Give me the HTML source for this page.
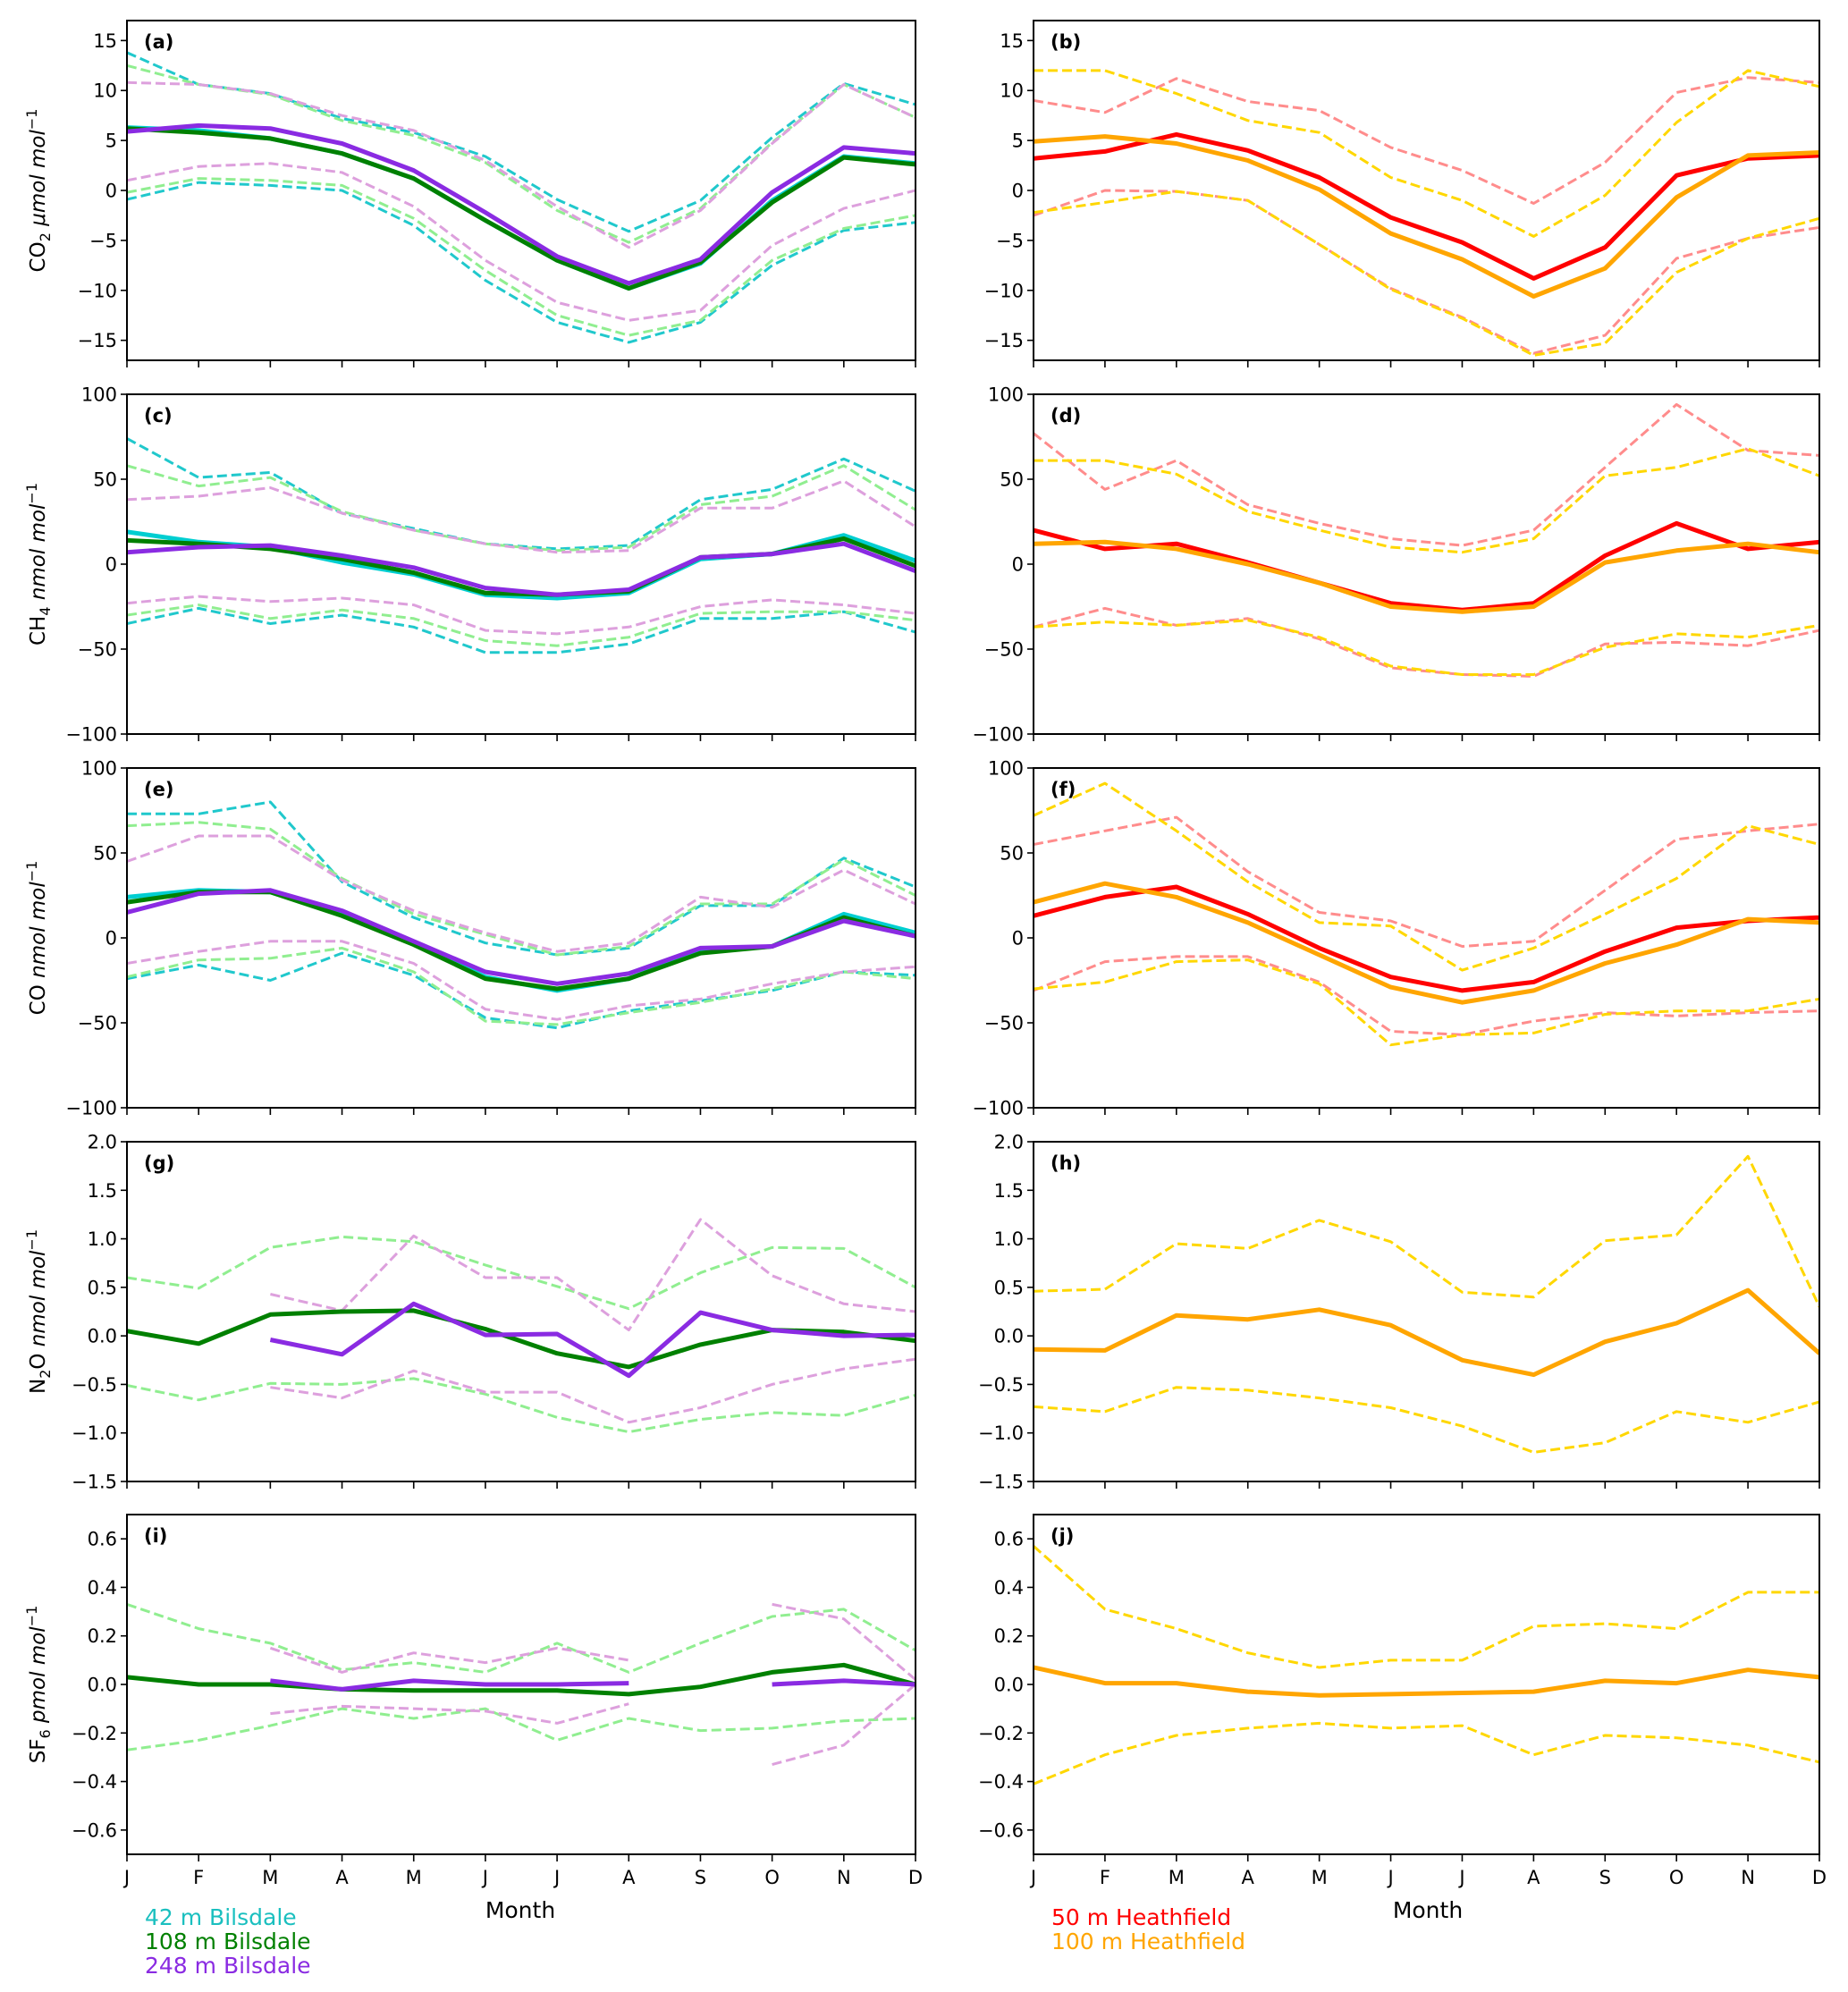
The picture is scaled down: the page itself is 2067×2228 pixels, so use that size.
<!DOCTYPE html>
<html><head><meta charset="utf-8"><style>
html,body{margin:0;padding:0;background:#fff;}
svg{display:block;font-family:"DejaVu Sans","Liberation Sans",sans-serif;}
</style></head><body>
<svg id="fig" width="2067" height="2228" viewBox="0 0 2067 2228" xmlns="http://www.w3.org/2000/svg">
<text x="582" y="2145" font-size="25" text-anchor="middle">Month</text>
<text x="1597" y="2145" font-size="25" text-anchor="middle">Month</text>
<g font-size="25">
<text x="162" y="2153" fill="#1abfbf">42 m Bilsdale</text>
<text x="162" y="2180" fill="#008000">108 m Bilsdale</text>
<text x="162" y="2207" fill="#8a2be2">248 m Bilsdale</text>
</g>
<g font-size="25">
<text x="1176" y="2153" fill="#ff0000">50 m Heathfield</text>
<text x="1176" y="2180" fill="#ffa500">100 m Heathfield</text>
</g>
</svg>
<script>
const months = ["J","F","M","A","M","J","J","A","S","O","N","D"];
const N = null;
// (a) CO2 Bilsdale
const a_42 = [6.3,6.0,5.2,3.7,1.2,-3.0,-7.0,-9.8,-7.3,-1.0,3.4,2.7];
const a_108 = [6.2,5.8,5.2,3.7,1.2,-3.0,-7.0,-9.8,-7.2,-1.2,3.3,2.6];
const a_248 = [5.9,6.5,6.2,4.7,2.0,-2.2,-6.6,-9.3,-6.9,-0.2,4.3,3.7];
const a_42_up = [13.8,10.6,9.7,7.2,5.8,3.4,-0.9,-4.1,-1.0,5.3,10.7,8.6];
const a_42_lo = [-0.9,0.8,0.5,0.0,-3.5,-9.0,-13.2,-15.2,-13.2,-7.5,-4.0,-3.2];
const a_108_up = [12.5,10.6,9.6,7.0,5.5,2.8,-2.0,-5.2,-1.8,4.8,10.6,7.3];
const a_108_lo = [-0.2,1.2,1.0,0.5,-2.8,-8.0,-12.5,-14.5,-13.0,-7.0,-3.8,-2.5];
const a_248_up = [10.8,10.6,9.7,7.5,6.0,3.0,-1.6,-5.7,-2.0,4.7,10.6,7.3];
const a_248_lo = [1.0,2.4,2.7,1.8,-1.6,-7.0,-11.2,-13.0,-12.0,-5.5,-1.8,0.0];
// (b) CO2 Heathfield
const b_50 = [3.2,3.9,5.6,4.0,1.3,-2.7,-5.2,-8.8,-5.7,1.5,3.2,3.5];
const b_100 = [4.9,5.4,4.7,3.0,0.1,-4.3,-6.9,-10.6,-7.8,-0.7,3.5,3.8];
const b_50_up = [9.0,7.8,11.2,8.9,8.0,4.3,2.0,-1.3,2.8,9.8,11.3,10.8];
const b_50_lo = [-2.5,0.0,-0.1,-1.0,-5.4,-9.8,-12.7,-16.3,-14.5,-6.8,-4.8,-3.7];
const b_100_up = [12.0,12.0,9.7,7.0,5.8,1.3,-1.0,-4.6,-0.5,6.8,12.0,10.4];
const b_100_lo = [-2.2,-1.2,-0.1,-1.0,-5.4,-9.9,-12.8,-16.5,-15.3,-8.2,-4.8,-2.8];
// (c) CH4 Bilsdale
const c_42 = [19,13,10,1,-6,-18,-20,-17,3,6,17,2];
const c_108 = [14,12,9,3,-5,-17,-18,-16,4,6,15,-1];
const c_248 = [7,10,11,5,-2,-14,-18,-15,4,6,12,-4];
const c_42_up = [74,51,54,30,21,12,9,11,38,44,62,43];
const c_42_lo = [-35,-26,-35,-30,-37,-52,-52,-47,-32,-32,-28,-40];
const c_108_up = [58,46,51,31,20,12,8,10,35,40,58,32];
const c_108_lo = [-30,-24,-32,-27,-32,-45,-48,-43,-29,-28,-28,-33];
const c_248_up = [38,40,45,30,20,12,7,8,33,33,49,22];
const c_248_lo = [-23,-19,-22,-20,-24,-39,-41,-37,-25,-21,-24,-29];
// (d) CH4 Heathfield
const d_50 = [20,9,12,1,-11,-23,-27,-23,5,24,9,13];
const d_100 = [12,13,9,0,-11,-25,-28,-25,1,8,12,7];
const d_50_up = [77,44,61,35,24,15,11,20,57,94,67,64];
const d_50_lo = [-37,-26,-36,-32,-44,-61,-65,-66,-47,-46,-48,-39];
const d_100_up = [61,61,53,31,20,10,7,15,52,57,68,52];
const d_100_lo = [-37,-34,-36,-33,-43,-60,-65,-65,-49,-41,-43,-36];
// (e) CO Bilsdale
const e_42 = [24,28,27,14,-3,-23,-31,-24,-8,-5,14,3];
const e_108 = [21,27,27,13,-4,-24,-30,-24,-9,-5,12,1];
const e_248 = [15,26,28,16,-2,-20,-27,-21,-6,-5,10,1];
const e_42_up = [73,73,80,33,12,-3,-10,-6,19,19,47,30];
const e_42_lo = [-24,-16,-25,-9,-22,-47,-53,-43,-37,-31,-20,-22];
const e_108_up = [66,68,64,35,14,2,-10,-5,20,20,46,25];
const e_108_lo = [-23,-13,-12,-6,-20,-49,-51,-44,-38,-30,-20,-24];
const e_248_up = [45,60,60,34,16,3,-8,-3,24,18,40,20];
const e_248_lo = [-15,-8,-2,-2,-15,-42,-48,-40,-36,-27,-20,-17];
// (f) CO Heathfield
const f_50 = [13,24,30,14,-6,-23,-31,-26,-8,6,10,12];
const f_100 = [21,32,24,9,-10,-29,-38,-31,-15,-4,11,9];
const f_50_up = [55,63,71,39,15,10,-5,-2,28,58,63,67];
const f_50_lo = [-31,-14,-11,-11,-26,-55,-57,-49,-44,-46,-44,-43];
const f_100_up = [72,91,63,33,9,7,-19,-6,14,35,66,55];
const f_100_lo = [-30,-26,-14,-13,-27,-63,-57,-56,-45,-43,-43,-36];
// (g) N2O Bilsdale
const g_108 = [0.05,-0.08,0.22,0.25,0.26,0.07,-0.18,-0.32,-0.09,0.06,0.04,-0.05];
const g_248 = [N,N,-0.04,-0.19,0.33,0.01,0.02,-0.41,0.24,0.06,0.0,0.01];
const g_108_up = [0.6,0.49,0.91,1.02,0.97,0.73,0.51,0.28,0.65,0.91,0.9,0.5];
const g_108_lo = [-0.51,-0.66,-0.49,-0.5,-0.44,-0.6,-0.84,-0.99,-0.86,-0.79,-0.82,-0.61];
const g_248_up = [N,N,0.43,0.26,1.03,0.6,0.6,0.06,1.2,0.62,0.33,0.25];
const g_248_lo = [N,N,-0.53,-0.64,-0.36,-0.58,-0.58,-0.89,-0.74,-0.5,-0.34,-0.24];
// (h) N2O Heathfield
const h_100 = [-0.14,-0.15,0.21,0.17,0.27,0.11,-0.25,-0.4,-0.06,0.13,0.47,-0.18];
const h_100_up = [0.46,0.48,0.95,0.9,1.19,0.97,0.45,0.4,0.98,1.04,1.85,0.3];
const h_100_lo = [-0.73,-0.78,-0.53,-0.56,-0.64,-0.74,-0.93,-1.2,-1.1,-0.78,-0.89,-0.68];
// (i) SF6 Bilsdale
const i_108 = [0.03,0.0,0.0,-0.02,-0.025,-0.025,-0.025,-0.04,-0.01,0.05,0.08,0.0];
const i_248 = [N,N,0.015,-0.02,0.015,0.0,0.0,0.005,N,0.0,0.015,0.0];
const i_108_up = [0.33,0.23,0.17,0.06,0.09,0.05,0.17,0.05,0.17,0.28,0.31,0.14];
const i_108_lo = [-0.27,-0.23,-0.17,-0.1,-0.14,-0.1,-0.23,-0.14,-0.19,-0.18,-0.15,-0.14];
const i_248_up = [N,N,0.15,0.05,0.13,0.09,0.15,0.1,N,0.33,0.27,0.02];
const i_248_lo = [N,N,-0.12,-0.09,-0.1,-0.11,-0.16,-0.08,N,-0.33,-0.25,0.0];
// (j) SF6 Heathfield
const j_100 = [0.07,0.005,0.005,-0.03,-0.045,-0.04,-0.035,-0.03,0.015,0.005,0.06,0.03];
const j_100_up = [0.57,0.31,0.23,0.13,0.07,0.1,0.1,0.24,0.25,0.23,0.38,0.38];
const j_100_lo = [-0.41,-0.29,-0.21,-0.18,-0.16,-0.18,-0.17,-0.29,-0.21,-0.22,-0.25,-0.32];

const ticksCO2 = [-15,-10,-5,0,5,10,15];
const ticksBig = [-100,-50,0,50,100];
const ticksN2O = [-1.5,-1.0,-0.5,0.0,0.5,1.0,1.5,2.0];
const ticksSF6 = [-0.6,-0.4,-0.2,0.0,0.2,0.4,0.6];

const C = {c42:"#00ced1",c108:"#008000",c248:"#8a2be2",d42:"#20c8cc",d108:"#90ee90",d248:"#dda0dd",
  r50:"#ff0000",o100:"#ffa500",d50:"#ff8c8c",d100:"#ffd700"};

const NS="http://www.w3.org/2000/svg";
const svg=document.getElementById('fig');
function mk(tag,attrs,parent){const e=document.createElementNS(NS,tag);for(const k in attrs)e.setAttribute(k,attrs[k]);(parent||svg).appendChild(e);return e;}

const colX=[142,1156], colW=[882,879], rowY=[23,441,859,1277,1694], H=380;
function fmt(v,dec){const s=Math.abs(v).toFixed(dec);return (v<0?"\u2212":"")+s;}

const panels=[
 {id:"a",col:0,row:0,min:-17,max:17,ticks:ticksCO2,dec:0,ylab:["CO","2"," μmol mol","−1"],series:[
  [a_42_up,"d42","42m-upper"],[a_42_lo,"d42","42m-lower"],[a_108_up,"d108","108m-upper"],[a_108_lo,"d108","108m-lower"],
  [a_248_up,"d248","248m-upper"],[a_248_lo,"d248","248m-lower"],[a_42,"c42","42m-mean"],[a_108,"c108","108m-mean"],[a_248,"c248","248m-mean"]]},
 {id:"b",col:1,row:0,min:-17,max:17,ticks:ticksCO2,dec:0,series:[
  [b_50_up,"d50","50m-upper"],[b_50_lo,"d50","50m-lower"],[b_100_up,"d100","100m-upper"],[b_100_lo,"d100","100m-lower"],
  [b_50,"r50","50m-mean"],[b_100,"o100","100m-mean"]]},
 {id:"c",col:0,row:1,min:-100,max:100,ticks:ticksBig,dec:0,ylab:["CH","4"," nmol mol","−1"],series:[
  [c_42_up,"d42","42m-upper"],[c_42_lo,"d42","42m-lower"],[c_108_up,"d108","108m-upper"],[c_108_lo,"d108","108m-lower"],
  [c_248_up,"d248","248m-upper"],[c_248_lo,"d248","248m-lower"],[c_42,"c42","42m-mean"],[c_108,"c108","108m-mean"],[c_248,"c248","248m-mean"]]},
 {id:"d",col:1,row:1,min:-100,max:100,ticks:ticksBig,dec:0,series:[
  [d_50_up,"d50","50m-upper"],[d_50_lo,"d50","50m-lower"],[d_100_up,"d100","100m-upper"],[d_100_lo,"d100","100m-lower"],
  [d_50,"r50","50m-mean"],[d_100,"o100","100m-mean"]]},
 {id:"e",col:0,row:2,min:-100,max:100,ticks:ticksBig,dec:0,ylab:["CO","",""," nmol mol","−1"],series:[
  [e_42_up,"d42","42m-upper"],[e_42_lo,"d42","42m-lower"],[e_108_up,"d108","108m-upper"],[e_108_lo,"d108","108m-lower"],
  [e_248_up,"d248","248m-upper"],[e_248_lo,"d248","248m-lower"],[e_42,"c42","42m-mean"],[e_108,"c108","108m-mean"],[e_248,"c248","248m-mean"]]},
 {id:"f",col:1,row:2,min:-100,max:100,ticks:ticksBig,dec:0,series:[
  [f_50_up,"d50","50m-upper"],[f_50_lo,"d50","50m-lower"],[f_100_up,"d100","100m-upper"],[f_100_lo,"d100","100m-lower"],
  [f_50,"r50","50m-mean"],[f_100,"o100","100m-mean"]]},
 {id:"g",col:0,row:3,min:-1.5,max:2.0,ticks:ticksN2O,dec:1,ylab:["N","2","O nmol mol","−1"],series:[
  [g_108_up,"d108","108m-upper"],[g_108_lo,"d108","108m-lower"],[g_248_up,"d248","248m-upper"],[g_248_lo,"d248","248m-lower"],
  [g_108,"c108","108m-mean"],[g_248,"c248","248m-mean"]]},
 {id:"h",col:1,row:3,min:-1.5,max:2.0,ticks:ticksN2O,dec:1,series:[
  [h_100_up,"d100","100m-upper"],[h_100_lo,"d100","100m-lower"],[h_100,"o100","100m-mean"]]},
 {id:"i",col:0,row:4,min:-0.7,max:0.7,ticks:ticksSF6,dec:1,ylab:["SF","6"," pmol mol","−1"],series:[
  [i_108_up,"d108","108m-upper"],[i_108_lo,"d108","108m-lower"],[i_248_up,"d248","248m-upper"],[i_248_lo,"d248","248m-lower"],
  [i_108,"c108","108m-mean"],[i_248,"c248","248m-mean"]]},
 {id:"j",col:1,row:4,min:-0.7,max:0.7,ticks:ticksSF6,dec:1,series:[
  [j_100_up,"d100","100m-upper"],[j_100_lo,"d100","100m-lower"],[j_100,"o100","100m-mean"]]}
];

panels.forEach(p=>{
  const x0=colX[p.col], y0=rowY[p.row], W=colW[p.col];
  const g=mk('g',{});
  
  
  const xs=i=>x0+W*i/11;
  const ys=v=>y0+H*(p.max-v)/(p.max-p.min);
  mk('defs',{},g).innerHTML='<clipPath id="clip-'+p.id+'"><rect x="'+x0+'" y="'+y0+'" width="'+W+'" height="'+H+'"/></clipPath>';
  const lines=mk('g',{'clip-path':'url(#clip-'+p.id+')'},g);
  p.series.forEach(s=>{
    const arr=s[0], dashed=s[1].charAt(0)==='d';
    let segs=[],cur=[];
    arr.forEach((v,i)=>{if(v===null){if(cur.length)segs.push(cur);cur=[];}else cur.push(xs(i).toFixed(1)+','+ys(v).toFixed(1));});
    if(cur.length)segs.push(cur);
    segs.forEach(seg=>{
      const pl=mk('polyline',{points:seg.join(' '),fill:'none',stroke:C[s[1]],'stroke-width':dashed?3:5,'stroke-linejoin':'round'},lines);
      if(dashed)pl.setAttribute('stroke-dasharray','11,5');
      
      
    });
  });
  const fr=mk('rect',{x:x0,y:y0,width:W,height:H,fill:'none',stroke:'#000','stroke-width':2},g);
  
  
  p.ticks.forEach(t=>{
    const y=ys(t);
    mk('line',{x1:x0-7,x2:x0,y1:y,y2:y,stroke:'#000','stroke-width':1.6},g);
    const tx=mk('text',{x:x0-11,y:y+7.5,'font-size':21,'text-anchor':'end'},g);
    tx.textContent=fmt(t,p.dec);
    
    
  });
  months.forEach((m,i)=>{
    const x=xs(i);
    mk('line',{x1:x,x2:x,y1:y0+H,y2:y0+H+8,stroke:'#000','stroke-width':1.6},g);
    if(p.row===4){
      const tx=mk('text',{x:x,y:y0+H+33,'font-size':21,'text-anchor':'middle'},g);
      tx.textContent=m;
      
      
    }
  });
  const lb=mk('text',{x:x0+19,y:y0+31,'font-size':21,'font-weight':'bold'},g);
  lb.textContent='('+p.id+')';
  
  
  if(p.ylab){
    const cy=y0+H/2;
    const t=mk('text',{x:0,y:0,'font-size':23,'text-anchor':'middle',transform:'translate(50,'+cy+') rotate(-90)'},g);
    
    
    const L=p.ylab;
    if(p.id==='e'){
      t.innerHTML='<tspan>CO </tspan><tspan font-style="italic">nmol mol</tspan><tspan font-size="16" dy="-9">−1</tspan>';
    } else {
      const parts=L[2].split(' ');
      const pre=parts[0]; const unit=parts.slice(1).join(' ');
      t.innerHTML='<tspan>'+L[0]+'</tspan><tspan font-size="16" dy="6">'+L[1]+'</tspan><tspan dy="-6">'+pre+' </tspan><tspan font-style="italic">'+unit+'</tspan><tspan font-size="16" dy="-9">'+L[3]+'</tspan>';
    }
  }
});
</script>
</body></html>
